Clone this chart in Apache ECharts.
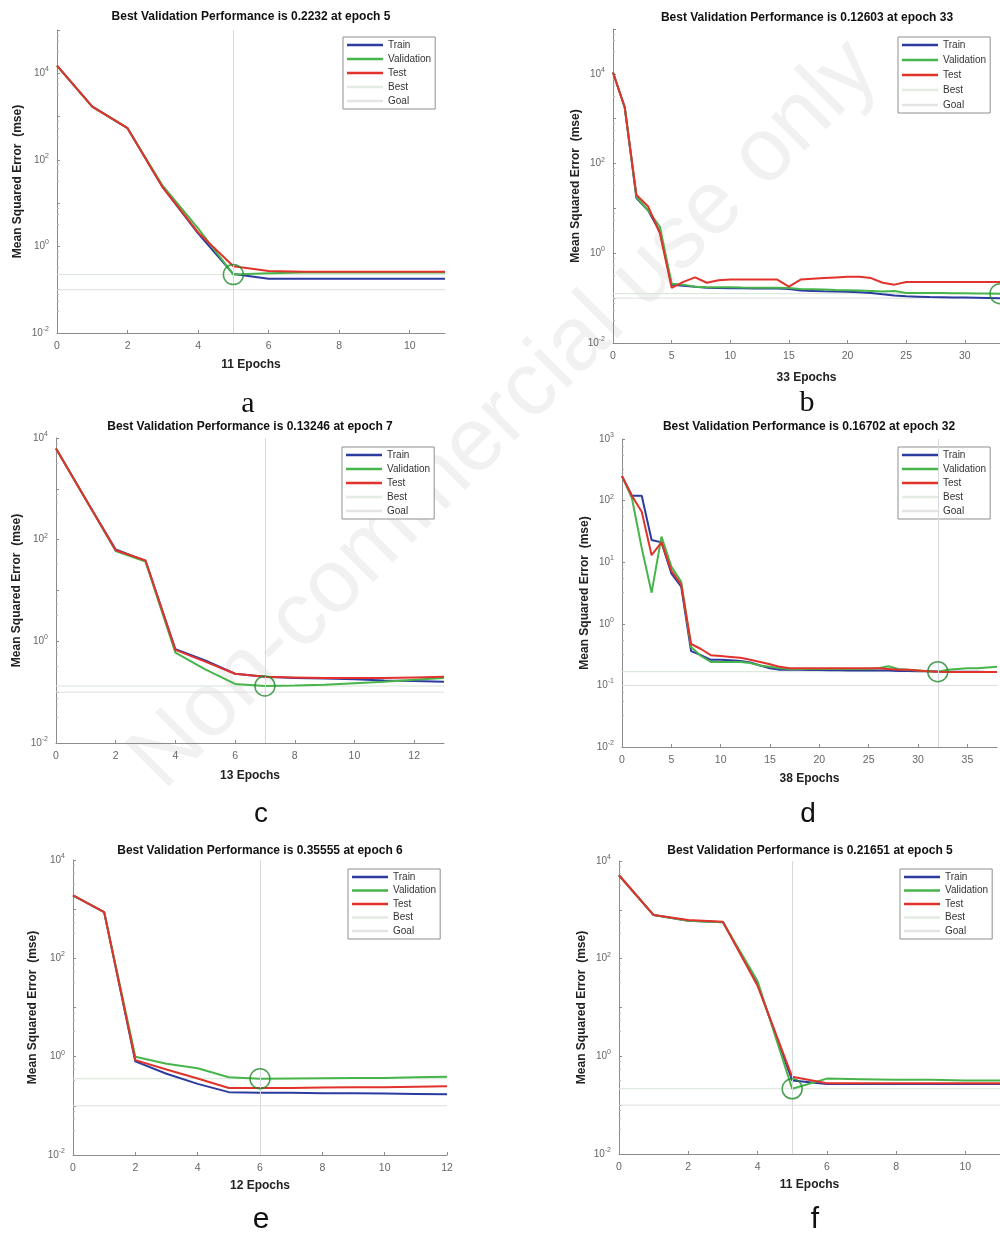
<!DOCTYPE html>
<html>
<head>
<meta charset="utf-8">
<title>Best Validation Performance</title>
<script src="https://cdn.jsdelivr.net/npm/echarts@6/dist/echarts.min.js"></script>
<style>
  html, body { margin: 0; padding: 0; background: #fff; }
  #main { width: 1000px; height: 1233px; }
</style>
</head>
<body>
<div id="main"></div>
<script>
// values (mse per epoch, index = epoch)
const trainA = [15000, 1700, 540, 23, 2.0, 0.23, 0.18, 0.18, 0.18, 0.18, 0.18, 0.18]
const validA = [15000, 1700, 540, 25, 2.6, 0.2232, 0.24, 0.25, 0.25, 0.25, 0.25, 0.25]
const testA = [15000, 1700, 540, 23, 2.1, 0.35, 0.27, 0.26, 0.26, 0.26, 0.26, 0.26]

const trainB = [10700, 1800, 17, 9, 3.0, 0.2, 0.19, 0.18, 0.17, 0.168, 0.167, 0.166, 0.165, 0.164, 0.163, 0.16, 0.148, 0.145, 0.142, 0.14, 0.138, 0.135, 0.13, 0.122, 0.115, 0.11, 0.108, 0.106, 0.105, 0.104, 0.103, 0.102, 0.101, 0.1]
const validB = [10700, 1800, 18, 9, 3.9, 0.21, 0.2, 0.18, 0.175, 0.175, 0.175, 0.172, 0.17, 0.17, 0.17, 0.168, 0.16, 0.158, 0.155, 0.152, 0.15, 0.148, 0.145, 0.14, 0.145, 0.13, 0.13, 0.13, 0.13, 0.128, 0.128, 0.127, 0.127, 0.12603]
const testB = [10700, 1800, 20, 11, 2.8, 0.17, 0.23, 0.29, 0.22, 0.25, 0.26, 0.26, 0.26, 0.26, 0.26, 0.18, 0.26, 0.27, 0.28, 0.29, 0.3, 0.3, 0.28, 0.22, 0.2, 0.23, 0.23, 0.23, 0.23, 0.23, 0.23, 0.23, 0.23, 0.23]

const trainC = [6200, 620, 64, 38, 0.7, 0.42, 0.23, 0.2, 0.19, 0.185, 0.18, 0.17, 0.165, 0.16]
const validC = [6200, 620, 60, 37, 0.6, 0.28, 0.145, 0.13246, 0.135, 0.14, 0.15, 0.16, 0.175, 0.19]
const testC = [6200, 620, 62, 39, 0.68, 0.4, 0.23, 0.2, 0.195, 0.19, 0.19, 0.19, 0.195, 0.2]

const trainD = [250, 120, 120, 23, 21, 6.6, 4.0, 0.36, 0.31, 0.26, 0.26, 0.255, 0.25, 0.235, 0.21, 0.19, 0.18, 0.18, 0.18, 0.178, 0.178, 0.176, 0.176, 0.175, 0.175, 0.175, 0.174, 0.174, 0.172, 0.172, 0.17, 0.17, 0.168, 0.167, 0.166, 0.166, 0.166, 0.165, 0.165]
const validD = [250, 110, 17, 3.2, 26, 8.5, 4.8, 0.42, 0.3, 0.24, 0.24, 0.24, 0.24, 0.23, 0.21, 0.2, 0.19, 0.185, 0.185, 0.185, 0.185, 0.185, 0.185, 0.185, 0.185, 0.185, 0.19, 0.205, 0.185, 0.18, 0.175, 0.17, 0.16702, 0.18, 0.185, 0.19, 0.19, 0.195, 0.2]
const testD = [250, 120, 66, 13, 21, 7.3, 4.3, 0.47, 0.39, 0.31, 0.3, 0.29, 0.28, 0.26, 0.24, 0.22, 0.2, 0.19, 0.19, 0.19, 0.19, 0.19, 0.19, 0.19, 0.19, 0.19, 0.19, 0.185, 0.18, 0.18, 0.175, 0.17, 0.167, 0.165, 0.165, 0.165, 0.165, 0.165, 0.165]

const trainE = [1900, 870, 0.8, 0.45, 0.28, 0.19, 0.185, 0.185, 0.18, 0.18, 0.178, 0.175, 0.172]
const validE = [1900, 870, 1.0, 0.72, 0.58, 0.38, 0.35555, 0.36, 0.365, 0.37, 0.37, 0.38, 0.39]
const testE = [1900, 870, 0.85, 0.55, 0.36, 0.23, 0.23, 0.23, 0.235, 0.24, 0.24, 0.245, 0.25]

const trainF = [5100, 780, 600, 560, 30, 0.32, 0.27, 0.27, 0.27, 0.27, 0.27, 0.27]
const validF = [5100, 780, 600, 560, 35, 0.21651, 0.35, 0.34, 0.33, 0.33, 0.32, 0.32]
const testF = [5100, 780, 620, 570, 28, 0.38, 0.28, 0.28, 0.28, 0.28, 0.28, 0.28]

const bestPerf = [0.2232, 0.12603, 0.13246, 0.16702, 0.35555, 0.21651]
const bestEpochs = [5, 33, 7, 32, 6, 5]
const goalMse = 0.1
const panelLetters = ['a', 'b', 'c', 'd', 'e', 'f']
const legendNames = ['Train', 'Validation', 'Test', 'Best', 'Goal']

const FONT = '"Liberation Sans", Arial, sans-serif'
const colTrain = '#2b3b9e'
const colValid = '#47b54b'
const colTest = '#e1322b'

// layout of each sub plot (pixels)
const panels = [
  { train: trainA, valid: validA, test: testA, yMax: 1e5, xStep: 2,
    grid: { left: 57, top: 30, width: 388, height: 303 }, legend: { left: 343, top: 37 }, legendGap: 4,
    title: [251, 17], letterPos: [248, 404], letterFont: '30px "Liberation Serif", serif', xNameGap: 26, yNameGap: 33 },
  { train: trainB, valid: validB, test: testB, yMax: 1e5, xStep: 5,
    grid: { left: 613, top: 29, width: 388, height: 314 }, legend: { left: 898, top: 37 }, legendGap: 5,
    title: [807, 18], letterPos: [807, 403], letterFont: '30px "Liberation Serif", serif', xNameGap: 29, yNameGap: 31 },
  { train: trainC, valid: validC, test: testC, yMax: 1e4, xStep: 2,
    grid: { left: 56, top: 438, width: 388, height: 305 }, legend: { left: 342, top: 447 }, legendGap: 4,
    title: [250, 427], letterPos: [261, 814], letterFont: '28px ' + FONT, xNameGap: 27, yNameGap: 33 },
  { train: trainD, valid: validD, test: testD, yMax: 1e3, xStep: 5,
    grid: { left: 622, top: 439, width: 375, height: 308 }, legend: { left: 898, top: 447 }, legendGap: 4,
    title: [809, 427], letterPos: [808, 814], letterFont: '28px ' + FONT, xNameGap: 26, yNameGap: 31 },
  { train: trainE, valid: validE, test: testE, yMax: 1e4, xStep: 2,
    grid: { left: 73, top: 860, width: 374, height: 295 }, legend: { left: 348, top: 869 }, legendGap: 3.5,
    title: [260, 851], letterPos: [261, 1220], letterFont: '30px ' + FONT, xNameGap: 25, yNameGap: 34 },
  { train: trainF, valid: validF, test: testF, yMax: 1e4, xStep: 2,
    grid: { left: 619, top: 861, width: 381, height: 293 }, legend: { left: 900, top: 869 }, legendGap: 3.5,
    title: [810, 851], letterPos: [815, 1220], letterFont: '30px ' + FONT, xNameGap: 25, yNameGap: 31 }
]

const toPoints = (arr) => arr.map((v, i) => [i, v])

const grids = []
const xAxes = []
const yAxes = []
const legends = []
const series = []
const graphics = []

// faint diagonal watermark from the source figure
graphics.push({
  type: 'text', x: 505, y: 415, rotation: 45 * Math.PI / 180, z: -10,
  style: { text: 'Non-commercial use only', font: '90px ' + FONT, fill: '#f1f1f1',
    textAlign: 'center', textVerticalAlign: 'middle' }
})

panels.forEach((p, i) => {
  const n = p.train.length - 1
  const best = bestPerf[i]
  const bestEpoch = bestEpochs[i]
  const maxExp = Math.round(Math.log10(p.yMax))
  const everyOther = maxExp >= 4

  grids.push(Object.assign({ containLabel: false }, p.grid))

  xAxes.push({
    type: 'value', gridIndex: i, min: 0, max: n, interval: p.xStep,
    name: n + ' Epochs', nameLocation: 'middle', nameGap: p.xNameGap,
    nameTextStyle: { fontFamily: FONT, fontWeight: 'bold', fontSize: 12, color: '#222' },
    axisLine: { lineStyle: { color: '#8c8c8c' } },
    axisTick: { inside: true, length: 3, lineStyle: { color: '#8c8c8c' } },
    axisLabel: { color: '#666', fontFamily: FONT, fontSize: 10.5, margin: 8,
      showMaxLabel: n % p.xStep === 0, hideOverlap: false },
    splitLine: { show: false }
  })

  yAxes.push({
    type: 'log', logBase: 10, gridIndex: i, min: 0.01, max: p.yMax,
    name: 'Mean Squared Error  (mse)', nameLocation: 'middle', nameGap: p.yNameGap,
    nameTextStyle: { fontFamily: FONT, fontWeight: 'bold', fontSize: 12, color: '#222' },
    axisLine: { show: true, lineStyle: { color: '#8c8c8c' } },
    axisTick: { inside: true, length: 3, lineStyle: { color: '#8c8c8c' } },
    minorTick: { show: true, splitNumber: 4, length: 2, lineStyle: { color: '#b5b5b5' } },
    splitLine: { show: false },
    axisLabel: {
      margin: 8,
      formatter: function (v) {
        const e = Math.round(Math.log10(v))
        if (e >= 5 || (everyOther && e % 2 !== 0)) return ''
        return '{b|10}{s|' + e + '}'
      },
      rich: {
        b: { fontFamily: FONT, fontSize: 10, color: '#666' },
        s: { fontFamily: FONT, fontSize: 7, color: '#666', padding: [0, 0, 8, 0] }
      }
    }
  })

  legends.push({
    orient: 'vertical', left: p.legend.left, top: p.legend.top, data: legendNames,
    icon: 'rect', itemWidth: 36, itemHeight: 2.5, itemGap: p.legendGap, itemTextGap: 3,
    padding: [3, 4, 3, 4], borderColor: '#8f8f8f', borderWidth: 1, backgroundColor: '#fff',
    selectedMode: false,
    textStyle: { fontFamily: FONT, fontSize: 10, color: '#333' }
  })

  series.push({
    name: 'Goal', type: 'line', xAxisIndex: i, yAxisIndex: i, symbol: 'none', silent: true, z: 1,
    data: [[0, goalMse], [n, goalMse]],
    lineStyle: { color: '#dedede', width: 1 }, itemStyle: { color: '#e4e4e4' }
  })
  series.push({
    name: 'Best', type: 'line', xAxisIndex: i, yAxisIndex: i, symbol: 'none', silent: true, z: 1,
    data: [[0, best], [n, best]],
    lineStyle: { color: '#d6e4d6', width: 1 }, itemStyle: { color: '#e2ece2' },
    markLine: {
      symbol: 'none', silent: true, label: { show: false },
      lineStyle: { color: '#d4dadd', width: 1, type: 'solid' },
      data: [{ xAxis: bestEpoch }]
    }
  })
  series.push({
    name: 'Train', type: 'line', xAxisIndex: i, yAxisIndex: i, symbol: 'none', z: 3,
    data: toPoints(p.train), lineStyle: { color: colTrain, width: 2 }, itemStyle: { color: colTrain }
  })
  series.push({
    name: 'Validation', type: 'line', xAxisIndex: i, yAxisIndex: i, symbol: 'none', z: 3,
    data: toPoints(p.valid), lineStyle: { color: colValid, width: 2 }, itemStyle: { color: colValid }
  })
  series.push({
    name: 'Test', type: 'line', xAxisIndex: i, yAxisIndex: i, symbol: 'none', z: 3,
    data: toPoints(p.test), lineStyle: { color: colTest, width: 2 }, itemStyle: { color: colTest }
  })
  series.push({
    name: 'bestPoint', type: 'scatter', xAxisIndex: i, yAxisIndex: i, z: 5, clip: false, silent: true,
    symbol: 'circle', symbolSize: 20,
    data: [[bestEpoch, best]],
    itemStyle: { color: 'rgba(0,0,0,0)', borderColor: '#1f8a2a', borderWidth: 1.5 }
  })

  graphics.push({
    type: 'text', x: p.title[0], y: p.title[1], z: 10,
    style: { text: 'Best Validation Performance is ' + best + ' at epoch ' + bestEpoch,
      font: 'bold 12px ' + FONT, fill: '#111', textAlign: 'center', textVerticalAlign: 'middle' }
  })
  graphics.push({
    type: 'text', x: p.letterPos[0], y: p.letterPos[1], z: 10,
    style: { text: panelLetters[i], font: p.letterFont, fill: '#111',
      textAlign: 'center', textVerticalAlign: 'middle' }
  })
})

const myChart = echarts.init(document.getElementById('main'))
myChart.setOption({
  animation: false,
  backgroundColor: '#fff',
  grid: grids,
  xAxis: xAxes,
  yAxis: yAxes,
  legend: legends,
  series: series,
  graphic: { elements: graphics }
})
</script>
</body>
</html>
